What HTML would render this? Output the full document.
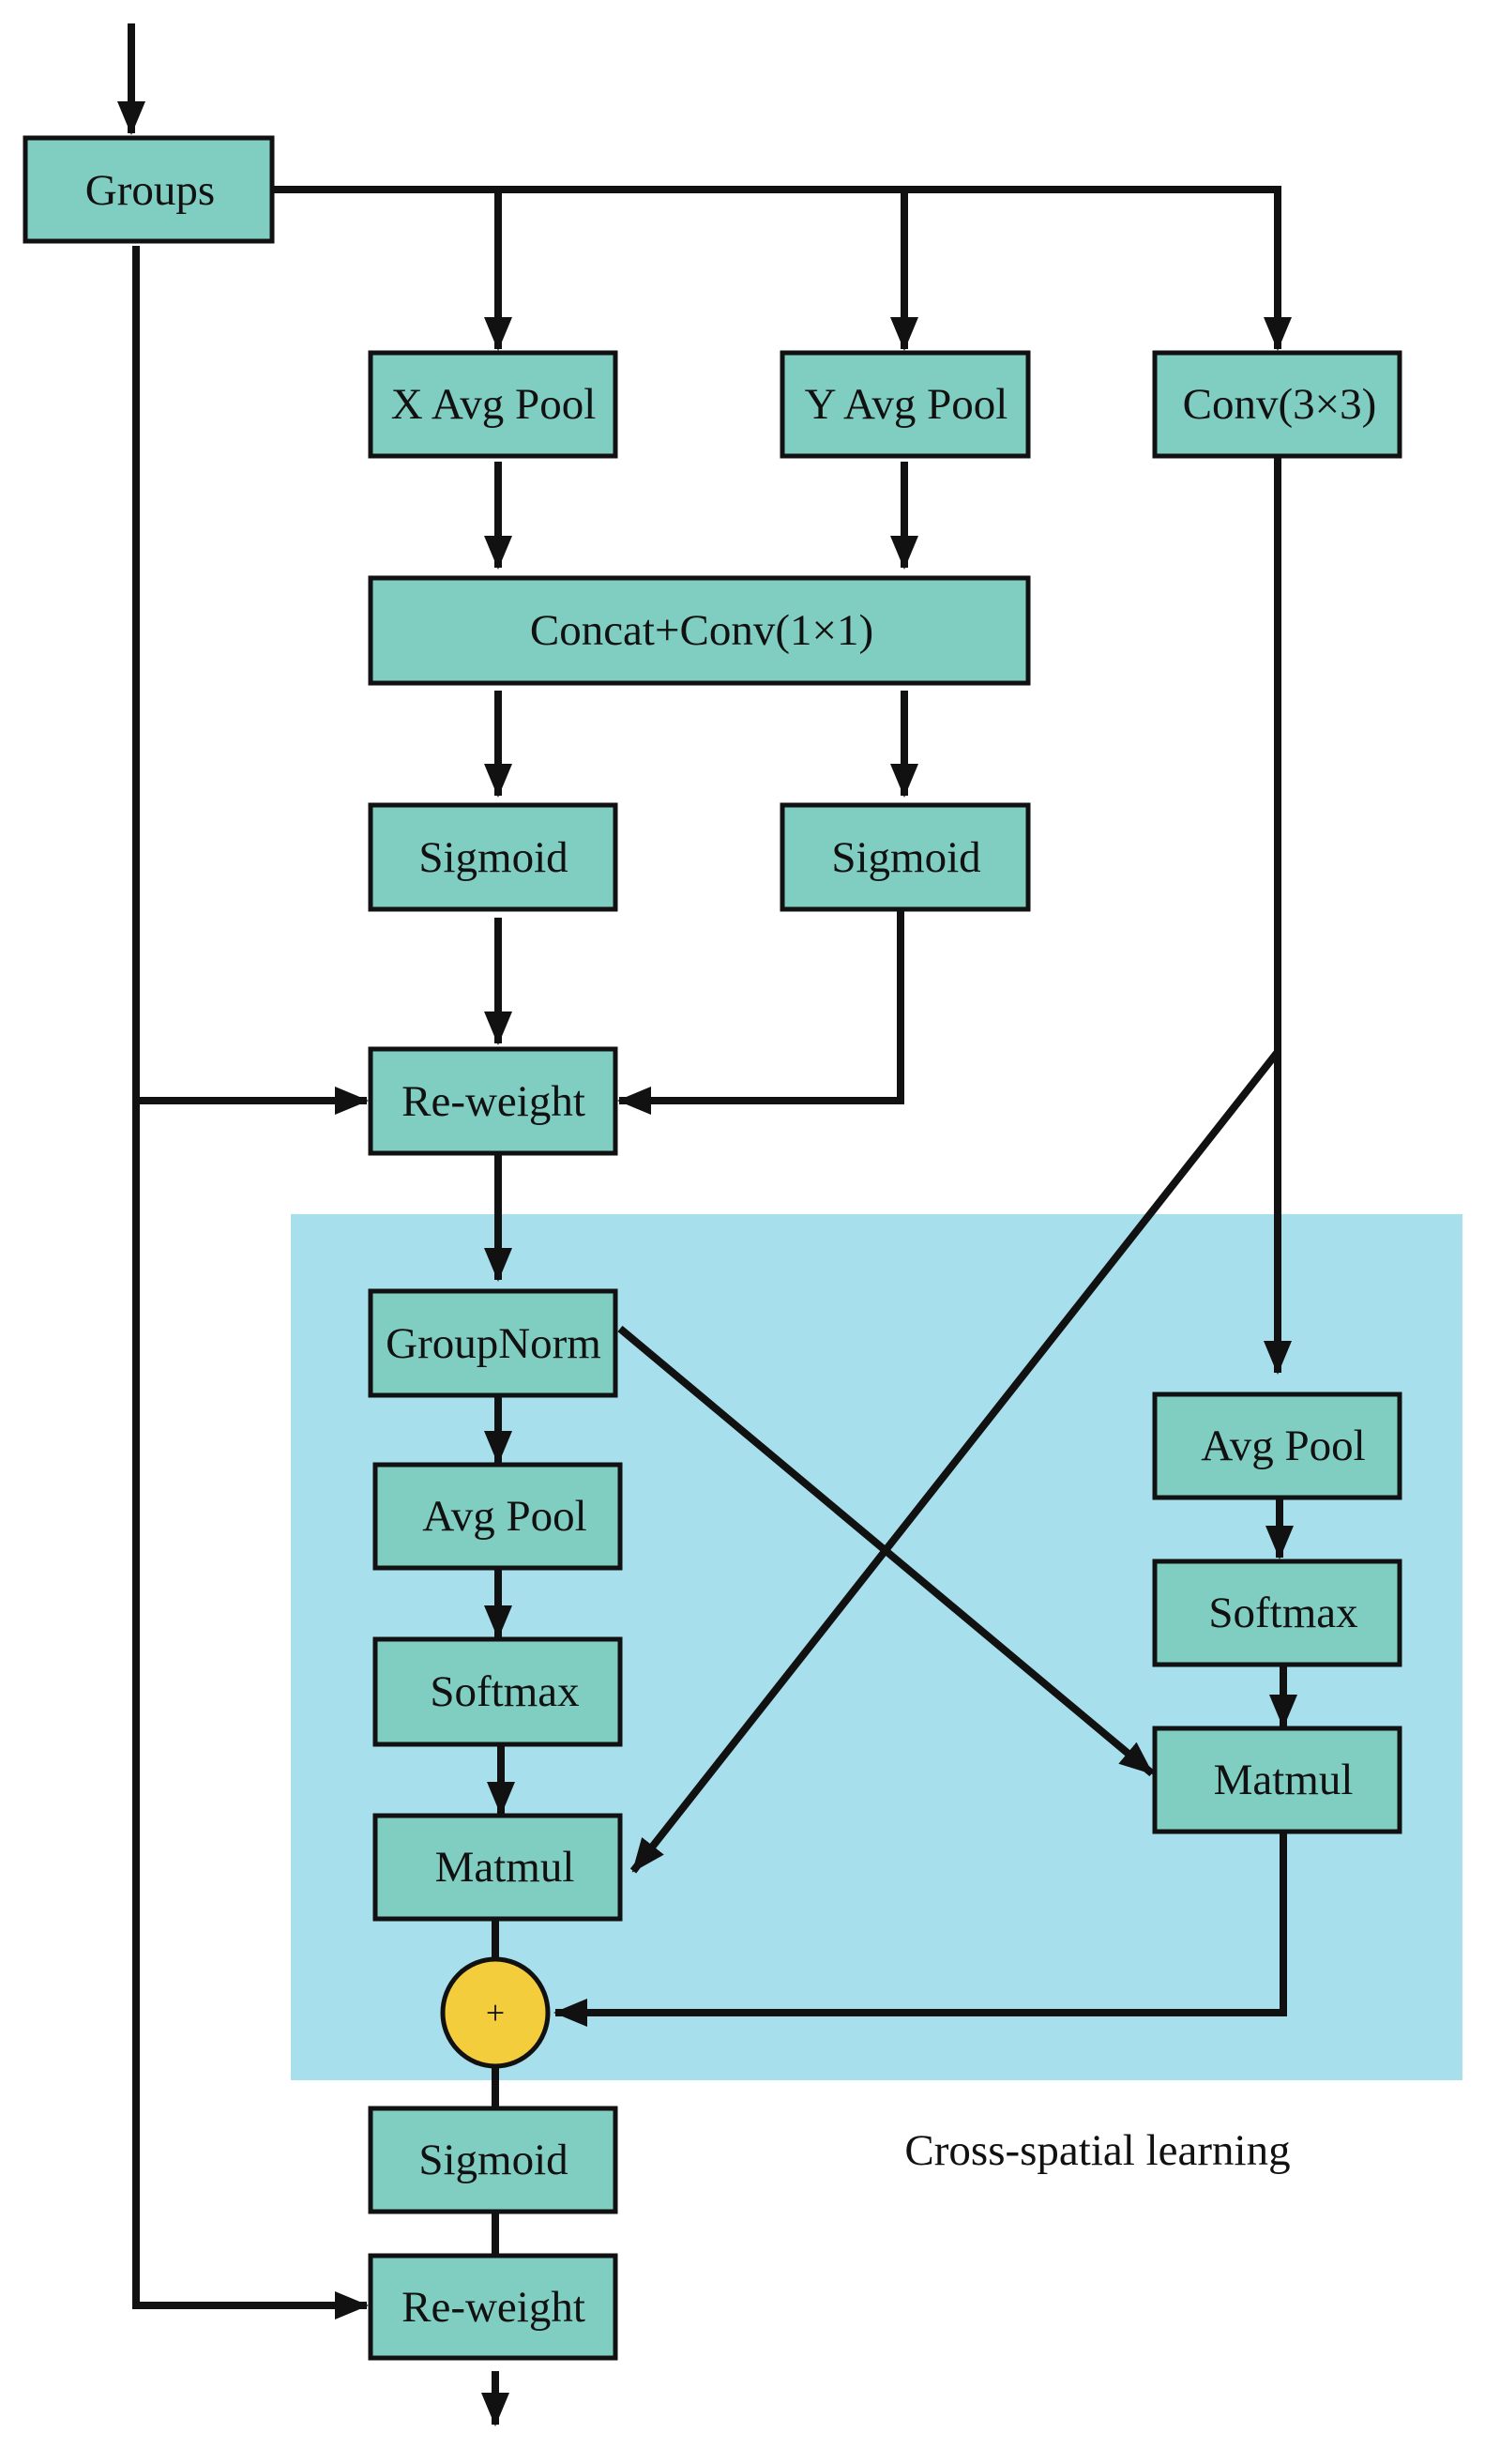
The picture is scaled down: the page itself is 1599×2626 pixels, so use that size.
<!DOCTYPE html>
<html><head><meta charset="utf-8"><style>
html,body{margin:0;padding:0;background:#fff}
svg{display:block}
text{font-family:"Liberation Serif",serif;font-size:47px;fill:#111;text-anchor:middle;dominant-baseline:central}
.b{fill:#80cdc1;stroke:#111;stroke-width:5}
.l{stroke:#111;stroke-width:8;fill:none}
</style></head><body>
<svg width="1599" height="2626" viewBox="0 0 1599 2626" xmlns="http://www.w3.org/2000/svg">
<defs><marker id="a" markerUnits="userSpaceOnUse" markerWidth="36" markerHeight="30" refX="34" refY="15" orient="auto"><path d="M0,0 L36,15 L0,30 Z" fill="#111"/></marker></defs>
<rect x="310" y="1294" width="1249" height="923" fill="#a8dfed"/>
<line class="l" x1="140" y1="25" x2="140" y2="142" marker-end="url(#a)"/>
<polyline class="l" points="290,202 1362,202 1362,372" marker-end="url(#a)"/>
<line class="l" x1="531" y1="202" x2="531" y2="372" marker-end="url(#a)"/>
<line class="l" x1="964" y1="202" x2="964" y2="372" marker-end="url(#a)"/>
<line class="l" x1="531" y1="492" x2="531" y2="605" marker-end="url(#a)"/>
<line class="l" x1="964" y1="492" x2="964" y2="605" marker-end="url(#a)"/>
<line class="l" x1="531" y1="736" x2="531" y2="848" marker-end="url(#a)"/>
<line class="l" x1="964" y1="736" x2="964" y2="848" marker-end="url(#a)"/>
<line class="l" x1="531" y1="978" x2="531" y2="1112" marker-end="url(#a)"/>
<polyline class="l" points="960,969 960,1173 660,1173" marker-end="url(#a)"/>
<polyline class="l" points="145,262 145,2457 391,2457" marker-end="url(#a)"/>
<line class="l" x1="145" y1="1173" x2="391" y2="1173" marker-end="url(#a)"/>
<line class="l" x1="1362" y1="486" x2="1362" y2="1463" marker-end="url(#a)"/>
<polyline class="l" points="1362,1121 675,1994" marker-end="url(#a)"/>
<line class="l" x1="531" y1="1229" x2="531" y2="1364" marker-end="url(#a)"/>
<line class="l" x1="661" y1="1416" x2="1228" y2="1890" marker-end="url(#a)"/>
<line class="l" x1="531" y1="1487" x2="531" y2="1559" marker-end="url(#a)"/>
<line class="l" x1="531" y1="1671" x2="531" y2="1745" marker-end="url(#a)"/>
<line class="l" x1="534" y1="1859" x2="534" y2="1933" marker-end="url(#a)"/>
<line class="l" x1="1364" y1="1596" x2="1364" y2="1660" marker-end="url(#a)"/>
<line class="l" x1="1368" y1="1774" x2="1368" y2="1840" marker-end="url(#a)"/>
<polyline class="l" points="1368,1952 1368,2145 592,2145" marker-end="url(#a)"/>
<line class="l" x1="528" y1="2045" x2="528" y2="2247"/>
<line class="l" x1="528" y1="2357" x2="528" y2="2404"/>
<line class="l" x1="528" y1="2527" x2="528" y2="2584" marker-end="url(#a)"/>
<rect class="b" x="27" y="147" width="263" height="110"/><text x="160" y="203">Groups</text>
<rect class="b" x="395" y="376" width="261" height="110"/><text x="526" y="431">X Avg Pool</text>
<rect class="b" x="834" y="376" width="262" height="110"/><text x="966" y="431">Y Avg Pool</text>
<rect class="b" x="1231" y="376" width="261" height="110"/><text x="1364" y="431">Conv(3×3)</text>
<rect class="b" x="395" y="616" width="701" height="112"/><text x="748" y="672">Concat+Conv(1×1)</text>
<rect class="b" x="395" y="858" width="261" height="111"/><text x="526" y="914">Sigmoid</text>
<rect class="b" x="834" y="858" width="262" height="111"/><text x="966" y="914">Sigmoid</text>
<rect class="b" x="395" y="1118" width="261" height="111"/><text x="526" y="1174">Re-weight</text>
<rect class="b" x="395" y="1376" width="261" height="111"/><text x="526" y="1432">GroupNorm</text>
<rect class="b" x="400" y="1561" width="261" height="110"/><text x="538" y="1616">Avg Pool</text>
<rect class="b" x="400" y="1747" width="261" height="112"/><text x="538" y="1803">Softmax</text>
<rect class="b" x="400" y="1935" width="261" height="110"/><text x="538" y="1990">Matmul</text>
<rect class="b" x="1231" y="1486" width="261" height="110"/><text x="1368" y="1541">Avg Pool</text>
<rect class="b" x="1231" y="1664" width="261" height="110"/><text x="1368" y="1719">Softmax</text>
<rect class="b" x="1231" y="1842" width="261" height="110"/><text x="1368" y="1897">Matmul</text>
<rect class="b" x="395" y="2247" width="261" height="110"/><text x="526" y="2302">Sigmoid</text>
<rect class="b" x="395" y="2404" width="261" height="109"/><text x="526" y="2459">Re-weight</text>
<ellipse cx="528" cy="2145" rx="56" ry="57" fill="#f4cd3c" stroke="#111" stroke-width="5"/>
<text x="528" y="2145" style="font-size:36px">+</text>
<text x="1170" y="2292">Cross-spatial learning</text>
</svg>
</body></html>
